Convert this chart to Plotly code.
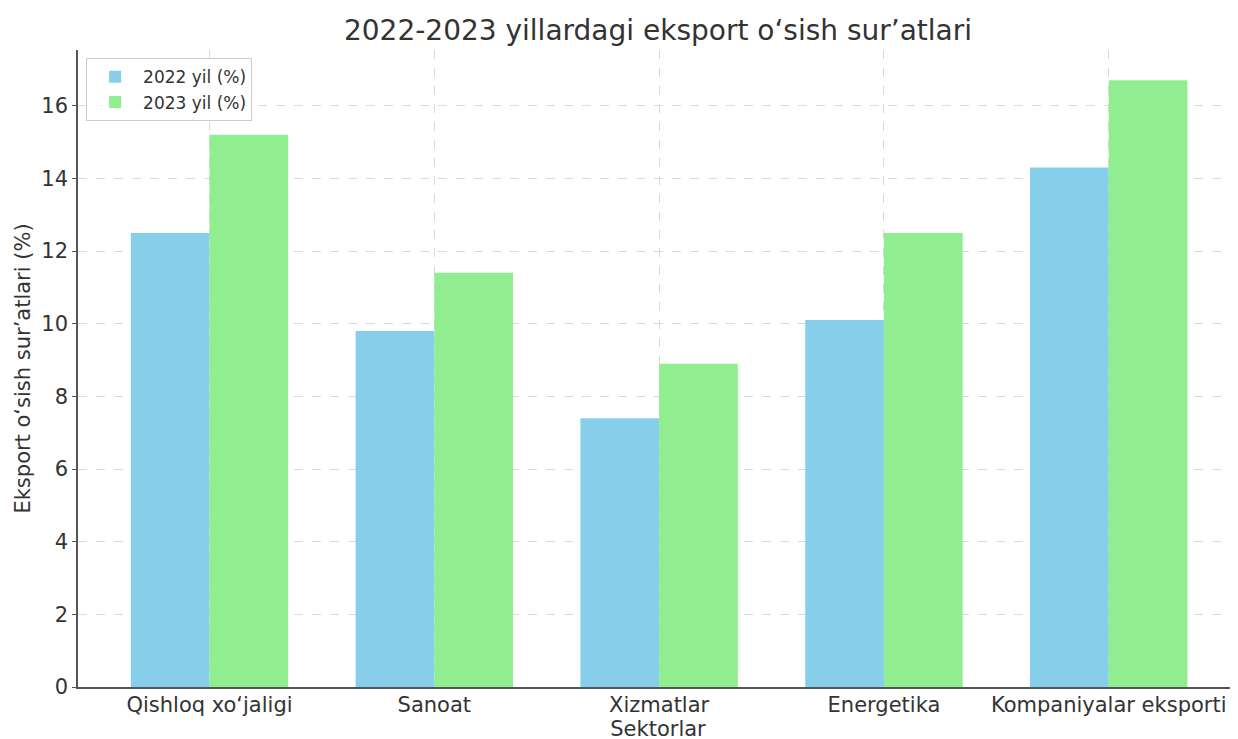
import plotly.graph_objects as go

categories = ["Qishloq xo‘jaligi", "Sanoat", "Xizmatlar", "Energetika", "Kompaniyalar eksporti"]
values_2022 = [12.5, 9.8, 7.4, 10.1, 14.3]
values_2023 = [15.2, 11.4, 8.9, 12.5, 16.7]
y_ticks = [0, 2, 4, 6, 8, 10, 12, 14, 16]

FONT = "DejaVu Sans"
TXT = "#333333"
AX = "#555555"

fig = go.Figure()
fig.add_trace(go.Bar(x=list(range(len(categories))), y=values_2022, name="2022 yil (%)",
                     marker=dict(color="#87CEEB", line=dict(width=0))))
fig.add_trace(go.Bar(x=list(range(len(categories))), y=values_2023, name="2023 yil (%)",
                     marker=dict(color="#90EE90", line=dict(width=0))))

fig.update_layout(
    width=1230, height=745,
    margin=dict(l=70, r=0, t=42, b=66, autoexpand=False),
    paper_bgcolor="white", plot_bgcolor="white",
    barmode="group", bargap=0.3, bargroupgap=0,
    font=dict(family=FONT, color=TXT, size=21),
    title=dict(text="2022-2023 yillardagi eksport o‘sish sur’atlari",
               xref="paper", x=0.5, xanchor="center",
               yref="container", y=1 - 22 / 745, yanchor="middle",
               font=dict(size=28, color=TXT)),
    legend=dict(x=0.007, y=0.987, xanchor="left", yanchor="top",
                bgcolor="rgba(255,255,255,0.8)", bordercolor="#cccccc", borderwidth=1,
                font=dict(size=17, color=TXT), itemwidth=46),
    xaxis=dict(
        tickmode="array", tickvals=list(range(len(categories))), ticktext=categories,
        range=[-0.585, 4.575], automargin=False,
        showgrid=True, gridcolor="#d9d9d9", griddash="dash", gridwidth=1,
        showline=True, linecolor=AX, linewidth=1.5,
        ticks="", ticklabelstandoff=-2,
        tickfont=dict(size=21, color=TXT),
        title=dict(text="Sektorlar", font=dict(size=21, color=TXT), standoff=4),
        zeroline=False,
    ),
    yaxis=dict(
        range=[0, 17.535], tickvals=y_ticks, automargin=False,
        showgrid=True, gridcolor="#d9d9d9", griddash="dash", gridwidth=1,
        showline=True, linecolor=AX, linewidth=1.5,
        ticks="outside", ticklen=4, tickcolor=AX,
        tickfont=dict(size=21, color=TXT),
        title=dict(text="Eksport o‘sish sur’atlari (%)", font=dict(size=21, color=TXT), standoff=5),
        zeroline=False,
    ),
)

fig.write_html("out.html")
